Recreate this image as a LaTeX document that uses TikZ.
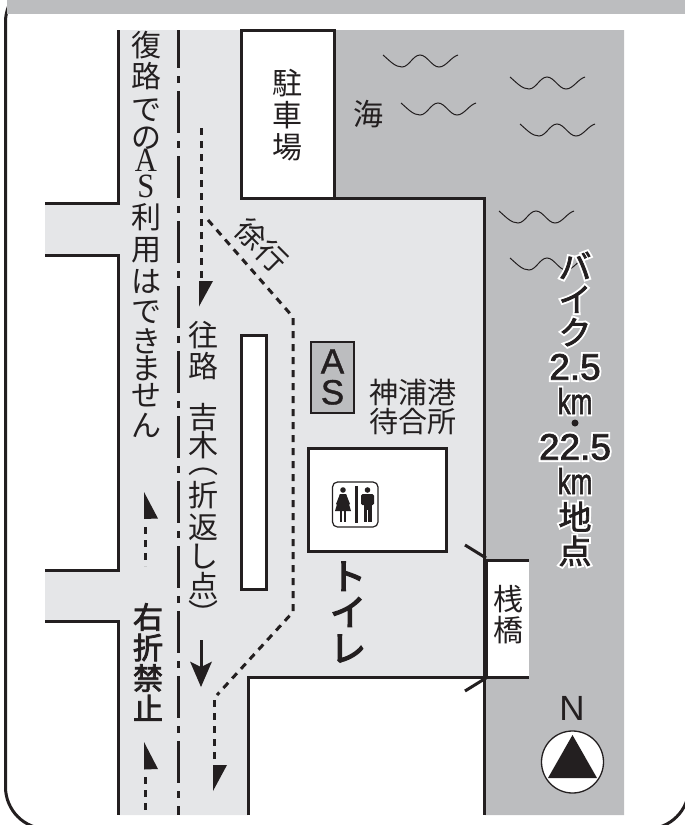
\documentclass[tikz,border=0pt]{standalone}
\usepackage{fontspec}
\setmainfont{Liberation Sans}
\newfontfamily\jp{Noto Sans CJK JP}
\newfontfamily\lsf{Liberation Sans}
\newfontfamily\lser{Liberation Serif}
\definecolor{ink}{HTML}{231F20}
\definecolor{sea}{HTML}{BCBDBF}
\definecolor{road}{HTML}{E5E6E8}
\newcommand{\stacksize}[2]{\fontsize{#1}{#2}\selectfont\lineskiplimit=-100pt\relax}
\newcommand{\narrow}[1]{\scalebox{.9}[1]{#1}}
\newcommand{\inkstroke}[2]{\special{pdf:code q 2 Tr #1 w 0.137 0.122 0.125 RG}#2\special{pdf:code Q}}
\newcommand{\whitestroke}[1]{\special{pdf:code q 2 Tr 4.5 w 1 1 1 RG}#1\special{pdf:code Q}}
\newcommand{\halotext}[4]{%
  \node[haloback,font={#3}] at #2 {\whitestroke{#4}};
  \node[haloink,font={#3}] (#1) at #2 {\inkstroke{0.7}{#4}};}
\tikzset{
  border/.style={draw=ink,line width=3pt,line join=miter},
  route/.style={draw=ink,line width=3pt,dash pattern=on 7pt off 6pt},
  centerline/.style={draw=ink,line width=3pt,dash pattern=on 42pt off 8pt on 7pt off 8pt,dash phase=4pt},
  tip/.style={fill=ink,draw=none},
  wave/.style={draw=ink,line width=1pt},
  label/.style={inner sep=0pt,align=center,text=ink},
  haloback/.style={inner sep=0pt,align=center,text=white},
  haloink/.style={inner sep=0pt,align=center,text=ink},
}
\begin{document}
\begin{tikzpicture}[x=1pt,y=-1pt]
\useasboundingbox (0,0) rectangle (685,825);
% frame
\draw[border,rounded corners=42pt] (5.5,-20) rectangle (689,829);
\fill[sea] (7,0) rectangle (685,14);
% sea
\fill[sea] (334,30) -- (624,30) -- (624,815) -- (485,815) -- (485,198) -- (334,198) -- cycle;
% road and plaza
\fill[road] (118,30) -- (241,30) -- (241,198) -- (485,198) -- (485,677) -- (248,677) -- (248,815)
  -- (118,815) -- (118,621) -- (45,621) -- (45,570) -- (118,570) -- (118,255) -- (45,255) -- (45,203) -- (118,203) -- cycle;
% outlines
\draw[border] (118,30) -- (118,203) -- (45,203);
\draw[border] (45,255) -- (118,255) -- (118,570) -- (45,570);
\draw[border] (45,621) -- (118,621) -- (118,815);
\draw[border] (248.5,815) -- (248.5,677) -- (486,677);
\draw[border] (334,198) -- (484.5,198) -- (484.5,815);
% parking
\draw[border,fill=white] (241,30) rectangle (334,198);
% pier
\fill[white] (486,560) rectangle (529,677);
\draw[border] (485,560) -- (529,560);
\draw[border] (485,677) -- (529,677);
\draw[border,line width=3.2pt] (486,560) -- (486,677);
\draw[border] (465,545) -- (486,558);
\draw[border] (465,691) -- (486,678);
% centre line
\draw[centerline] (178,30) -- (178,815);
% long island
\draw[border,fill=white] (241.5,335.5) rectangle (266.5,589);
% routes
\draw[route] (201,128) -- (201,280);
\fill[tip] (199,281) -- (213,281) -- (199,306.5) -- cycle;
\draw[route] (208,220) -- (293,317) -- (293,612) -- (217,695);
\draw[route] (214.5,700) -- (214.5,764);
\fill[tip] (213,765) -- (227,765) -- (213,791) -- cycle;
\draw[draw=ink,line width=3pt] (201,640) -- (201,670);
\fill[tip] (190,661.5) -- (201,667) -- (212,661.5) -- (201,687) -- cycle;
\fill[tip] (144,492) -- (158,518.5) -- (144,519) -- cycle;
\draw[route] (145.5,527) -- (145.5,566);
\fill[tip] (144,742) -- (158,769) -- (144,769.5) -- cycle;
\draw[route] (145.5,777) -- (145.5,815);
% waves
\foreach \wx/\wy in {383/55,510/77,401/103,520/124,499/211,510/258}
  \draw[wave,shift={(\wx,\wy)}] (0,0) .. controls (7,6) and (12,12) .. (19,12)
    .. controls (26,12) and (30,0) .. (37,0) .. controls (44,0) and (49,12) .. (56,12)
    .. controls (63,12) and (68,2) .. (75,0);
% AS box
\draw[draw=ink,line width=2.5pt,fill=sea] (311,342) rectangle (354,413);
\node[label,font=\lsf\stacksize{35}{31}] (as) at (332.5,377) {\inkstroke{0.4}{A\\S}};
% toilet
\draw[border,fill=white] (308.5,448) rectangle (446.5,551.5);
\draw[draw=ink,line width=1.2pt,fill=white,rounded corners=5pt] (332.5,482) rectangle (378,527);
\fill[ink] (354.5,486) rectangle (358,523);
\fill[ink] (343,490) circle (2.8pt);
\fill[ink] (343,494) -- (346,494) -- (351,511) -- (335,511) -- (340,494) -- cycle;
\fill[ink] (340,494) -- (336,504) -- (337.5,505) -- (341,498) -- cycle;
\fill[ink] (346,494) -- (350,504) -- (348.5,505) -- (345,498) -- cycle;
\fill[ink] (340,511) rectangle (342.3,522);
\fill[ink] (343.7,511) rectangle (346,522);
\fill[ink] (367.5,490) circle (2.8pt);
\fill[ink,rounded corners=1.5pt] (361,494) rectangle (374,505);
\fill[ink] (363.5,500) rectangle (371.5,510);
\fill[ink] (363.5,510) rectangle (367,522);
\fill[ink] (368,510) rectangle (371.5,522);
% north
\node[label,font=\lsf\fontsize{35}{35}\selectfont] (north) at (572,708) {N};
\draw[draw=ink,line width=1.3pt,fill=white] (572.5,762) circle (31pt);
\fill[ink] (572.5,735) -- (597,778) -- (548,778) -- cycle;
% labels
\node[label,font=\jp\stacksize{30}{32}] (parking) at (287,115) {駐\\車\\場};
\node[label,font=\jp\stacksize{30}{30}] (umi) at (368,114) {海};
\node[label,font=\jp\stacksize{30}{29},anchor=north] (noas) at (146,31) {復\\[2pt]路\\[4pt]で\\[-1pt]の\\[-6pt]{\lser\fontsize{34}{29}\selectfont\narrow{A}}\\[-3pt]{\lser\fontsize{34}{29}\selectfont\narrow{S}}\\[2pt]利\\[3pt]用\\[3pt]は\\[1pt]で\\[1pt]き\\[-2pt]ま\\[-2pt]せ\\[1pt]ん};
\node[label,font=\jp\stacksize{30}{31}] (ouro) at (203,351) {往\\路};
\node[label,font=\jp\stacksize{30}{29},anchor=north] (yoshiki) at (203,403) {吉\\[-1pt]木\\[-12pt]︵\\[4pt]折\\[3pt]返\\[0pt]し\\[1pt]点\\[-1pt]︶};
\node[label,font=\jp\stacksize{30}{30.5}] (uturn) at (148,662) {\inkstroke{0.8}{右\\折\\禁\\止}};
\node[label,font=\jp\stacksize{30}{30},rotate=-45] (jokou) at (262,245) {徐行};
\node[label,font=\jp\stacksize{29}{29}] (wait) at (412.5,407) {神浦港\\待合所};
\node[label,font=\jp\stacksize{30}{31}] (pier) at (508,615) {桟\\橋};
\node[label,font=\jp\stacksize{36}{36}] (toilet) at (348,612) {\inkstroke{1.4}{ト\\イ\\レ}};
% halo labels
\halotext{bike}{(575,299)}{\jp\stacksize{33}{33}}{バ\\イ\\ク}
\halotext{d25}{(575,367)}{\lsf\fontsize{37}{37}\selectfont}{2.5}
\halotext{kma}{(575,401)}{\lsf\fontsize{36}{36}\selectfont}{\scalebox{.72}[1]{km}}
\fill[ink] (575,423) circle (3.5pt);
\halotext{d225}{(575,447)}{\lsf\fontsize{37}{37}\selectfont}{22.5}
\halotext{kmb}{(575,481)}{\lsf\fontsize{36}{36}\selectfont}{\scalebox{.72}[1]{km}}
\halotext{spot}{(575,534)}{\jp\stacksize{33}{34}}{地\\点}
\end{tikzpicture}
\end{document}
